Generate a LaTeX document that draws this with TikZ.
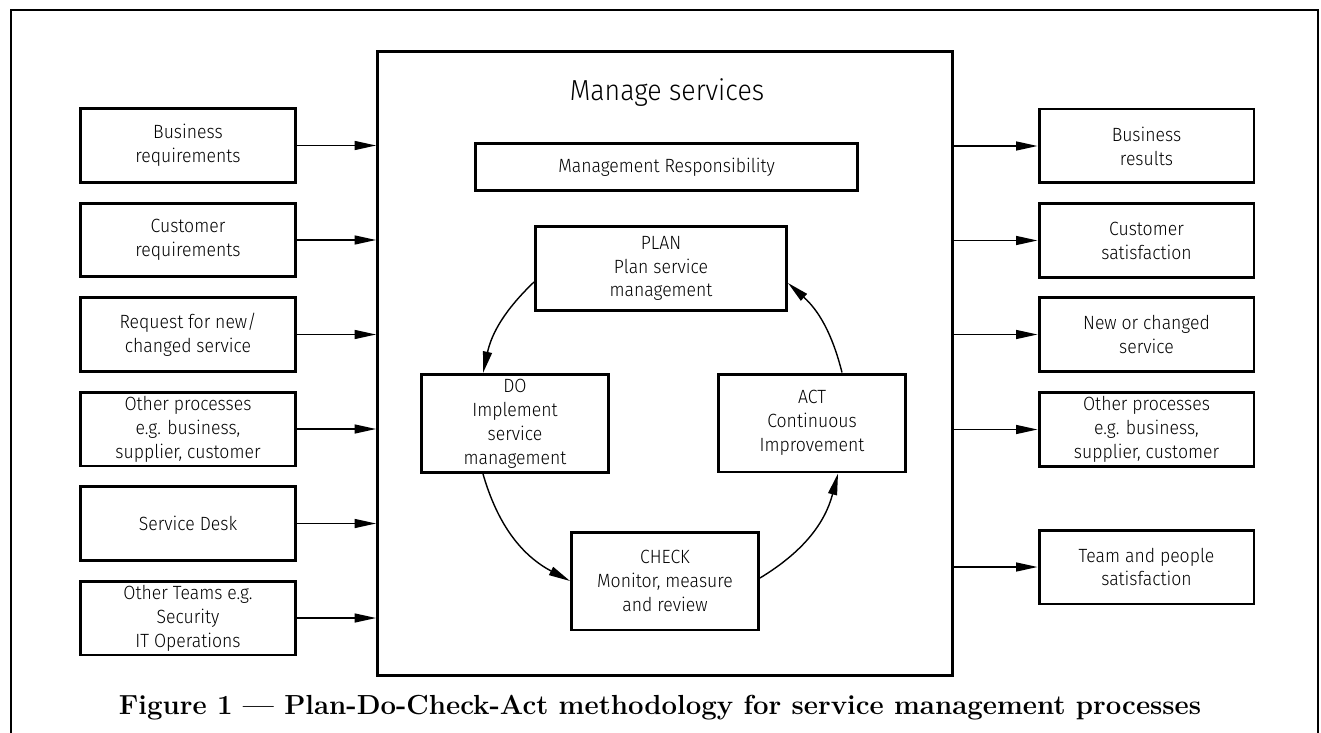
\documentclass[tikz,border=0pt]{standalone}
\usepackage{fontspec}
\newfontfamily\boxfont{Fira Sans}[UprightFont={* Light}, FakeStretch=0.92]
\usetikzlibrary{arrows.meta}
\tikzset{
  box/.style={draw, line width=1.7pt, align=center, inner sep=0pt,
    font=\boxfont\fontsize{10.9}{13.6}\selectfont},
  sidebox/.style={box, minimum width=4.30cm, minimum height=1.48cm},
  pdcabox/.style={box, minimum width=3.74cm, minimum height=1.96cm},
  arr/.style={line width=0.8pt, -{Triangle[length=0.43cm,width=0.18cm]}},
  cyc/.style={arr, bend right=#1}
}
\begin{document}
\begin{tikzpicture}[x=0.02cm,y=-0.02cm]
\useasboundingbox (0,0) rectangle (1321,733);
% outer frame
\draw[line width=1.1pt] (11,733) -- (11,10) -- (1318,10) -- (1318,733);
% main box
\node[draw, line width=1.7pt, minimum width=11.50cm, minimum height=12.48cm, inner sep=0pt] (main) at (665,363.5) {};
\node[font=\boxfont\fontsize{16.5}{20}\selectfont] (title) at (667,93) {Manage services};
\node[box, minimum width=7.64cm, minimum height=0.94cm] (mr) at (666.5,167) {Management Responsibility};
\node[box, minimum width=5.02cm, minimum height=1.68cm] (plan) at (661,268.5) {PLAN\\Plan service\\management};
\node[pdcabox] (do) at (515,423.5) {DO\\Implement\\service\\management};
\node[pdcabox] (act) at (812,423) {ACT\\Continuous\\Improvement};
\node[pdcabox] (check) at (665,581) {CHECK\\Monitor, measure\\and review};
% cycle
\draw[cyc=17] ([yshift=-0.27cm]plan.west) to ([xshift=-0.64cm]do.north);
\draw[cyc=23] ([xshift=-0.64cm]do.south) to (check.west);
\draw[cyc=22] ([yshift=0.06cm]check.east) to ([xshift=0.52cm]act.south);
\draw[cyc=17] ([xshift=0.60cm]act.north) to ([yshift=-0.29cm]plan.east);
% left inputs
\node[sidebox] (l1) at (188,145.5) {Business\\requirements};
\node[sidebox] (l2) at (188,240) {Customer\\requirements};
\node[sidebox] (l3) at (188,334.5) {Request for new/\\changed service};
\node[sidebox] (l4) at (188,429) {Other processes\\e.g. business,\\supplier, customer};
\node[sidebox] (l5) at (188,523.5) {Service Desk};
\node[sidebox] (l6) at (188,618) {Other Teams e.g.\\Security\\IT Operations};
\foreach \n in {l1,l2,l3,l4,l5,l6}
  \draw[arr] (\n.east) -- (\n.east -| main.west);
% right outputs
\node[sidebox] (r1) at (1146.5,146) {Business\\results};
\node[sidebox] (r2) at (1146.5,240.5) {Customer\\satisfaction};
\node[sidebox] (r3) at (1146.5,334.5) {New or changed\\service};
\node[sidebox] (r4) at (1146.5,429.5) {Other processes\\e.g. business,\\supplier, customer};
\node[sidebox] (r5) at (1146.5,567) {Team and people\\satisfaction};
\foreach \n in {r1,r2,r3,r4,r5}
  \draw[arr] (\n.west -| main.east) -- (\n.west);
% caption
\node[font=\bfseries\fontsize{15.7}{18}\selectfont] (cap) at (660,708) {Figure 1 --- Plan-Do-Check-Act methodology for service management processes};
\end{tikzpicture}
\end{document}
